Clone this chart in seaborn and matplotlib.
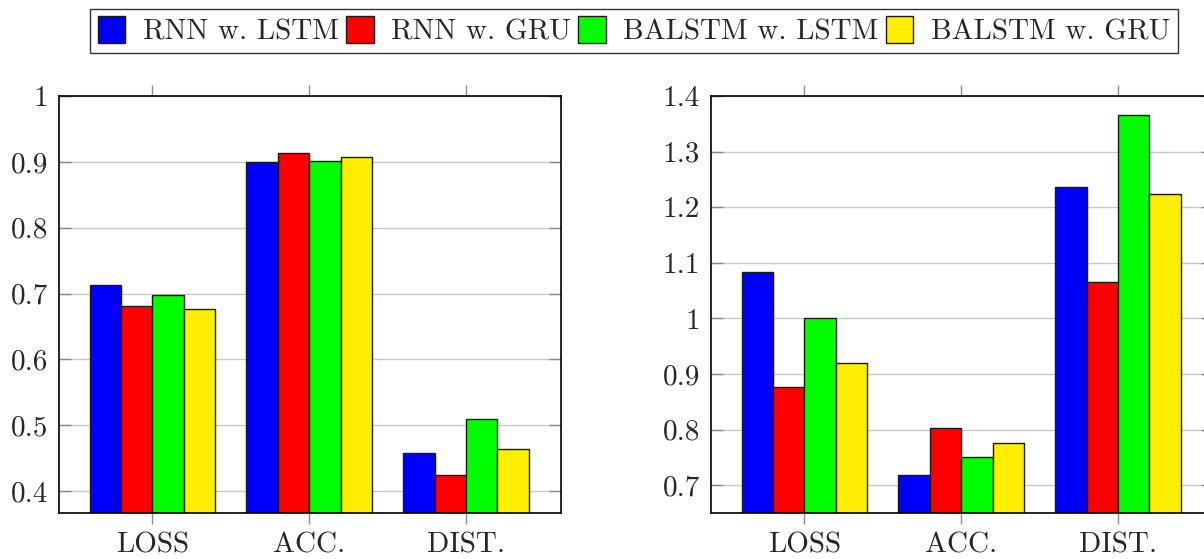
import matplotlib
matplotlib.use("Agg")
import matplotlib.pyplot as plt
from matplotlib.patches import Patch
import pandas as pd
import seaborn as sns

# Metrics on the x axis and the four model variants
metrics = ["LOSS", "ACC.", "DIST."]
models = ["RNN w. LSTM", "RNN w. GRU", "BALSTM w. LSTM", "BALSTM w. GRU"]
colors = ["#0000ff", "#ff0000", "#00ff00", "#ffee00"]

# Left panel: values per model, in the order of `metrics`
left_rnn_lstm = [0.713, 0.899, 0.458]
left_rnn_gru = [0.681, 0.913, 0.424]
left_balstm_lstm = [0.697, 0.901, 0.509]
left_balstm_gru = [0.676, 0.907, 0.464]

# Right panel
right_rnn_lstm = [1.084, 0.718, 1.237]
right_rnn_gru = [0.876, 0.802, 1.065]
right_balstm_lstm = [1.000, 0.751, 1.365]
right_balstm_gru = [0.919, 0.776, 1.223]

left_ticks = [0.4, 0.5, 0.6, 0.7, 0.8, 0.9, 1.0]
right_ticks = [0.7, 0.8, 0.9, 1.0, 1.1, 1.2, 1.3, 1.4]


def to_frame(series):
    rows = []
    for model, vals in zip(models, series):
        for metric, v in zip(metrics, vals):
            rows.append({"metric": metric, "model": model, "value": v})
    return pd.DataFrame(rows)


left_df = to_frame([left_rnn_lstm, left_rnn_gru, left_balstm_lstm, left_balstm_gru])
right_df = to_frame([right_rnn_lstm, right_rnn_gru, right_balstm_lstm, right_balstm_gru])

sns.set_style("white")
plt.rcParams["font.family"] = ["cmr10", "DejaVu Serif"]
plt.rcParams["axes.formatter.use_mathtext"] = True
plt.rcParams["mathtext.fontset"] = "cm"

FS = 21

fig = plt.figure(figsize=(12.04, 5.59), dpi=100)
ax_l = fig.add_axes([59 / 1204, 1 - 513 / 559, 502 / 1204, 417 / 559])
ax_r = fig.add_axes([711 / 1204, 1 - 513 / 559, 502 / 1204, 417 / 559])


def draw(ax, df, ylim, ticks):
    sns.barplot(data=df, x="metric", y="value", hue="model", order=metrics,
                hue_order=models, palette=colors, errorbar=None, width=0.8,
                edgecolor="#1a1a1a", linewidth=1.0, saturation=1.0,
                legend=False, ax=ax)
    ax.set_xlim(-0.595, 2.605)
    ax.set_ylim(*ylim)
    ax.set_yticks(ticks)
    ax.set_yticklabels([f"{t:g}" for t in ticks], fontsize=FS)
    ax.set_xticks(range(len(metrics)))
    ax.set_xticklabels(metrics, fontsize=FS)
    ax.set_xlabel("")
    ax.set_ylabel("")
    ax.set_axisbelow(True)
    ax.yaxis.grid(True, color="#c8c8c8", linewidth=1.0)
    ax.xaxis.grid(False)
    ax.tick_params(axis="x", direction="out", length=8, width=1.0,
                   color="#8a8a8a", top=True, bottom=True,
                   labeltop=False, pad=6)
    ax.tick_params(axis="y", direction="in", length=8.5, width=1.0,
                   color="#8a8a8a", left=True, right=True,
                   labelright=False, pad=8)
    for s in ax.spines.values():
        s.set_visible(True)
        s.set_color("black")
        s.set_linewidth(1.2)


draw(ax_l, left_df, (0.3666, 1.0), left_ticks)
draw(ax_r, right_df, (0.65, 1.4), right_ticks)

handles = [Patch(facecolor=c, edgecolor="#1a1a1a", linewidth=1.0) for c in colors]
leg = fig.legend(handles, models, loc="center", bbox_to_anchor=(0.5266, 0.9445),
                 ncol=4, fontsize=FS, frameon=True, fancybox=False,
                 handlelength=0.95, handleheight=1.04, handletextpad=0.6,
                 columnspacing=0.24, borderpad=0.25, borderaxespad=0.0)
leg.get_frame().set_edgecolor("black")
leg.get_frame().set_linewidth(1.0)

fig.savefig("out.png", dpi=100)
